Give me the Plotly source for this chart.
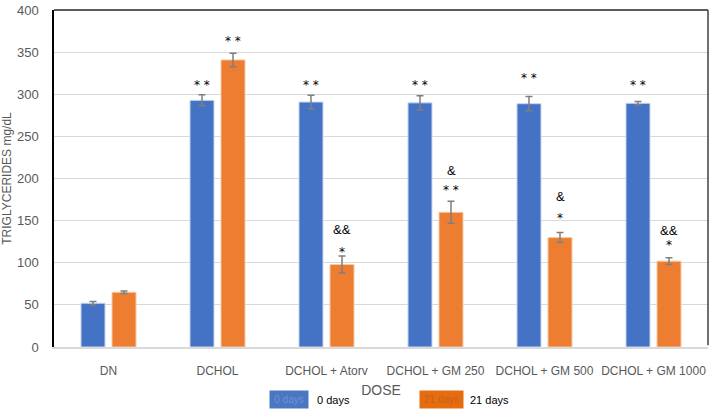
import plotly.graph_objects as go

categories = ["DN", "DCHOL", "DCHOL + Atorv", "DCHOL + GM 250", "DCHOL + GM 500", "DCHOL + GM 1000"]
day0 = [52, 293, 291, 290, 289, 289.5]
day0_err = [2, 6.5, 8, 8.5, 8.5, 2]
day21 = [65, 341, 98, 160, 130, 102]
day21_err = [1.5, 8, 10, 13, 6, 4]
y_ticks = [0, 50, 100, 150, 200, 250, 300, 350, 400]

# significance marks: (category, series, text, y)
marks = [
    ("DCHOL", 0, "**", 311),
    ("DCHOL", 1, "**", 364),
    ("DCHOL + Atorv", 0, "**", 311),
    ("DCHOL + Atorv", 1, "&&", 140),
    ("DCHOL + Atorv", 1, "*", 113),
    ("DCHOL + GM 250", 0, "**", 311),
    ("DCHOL + GM 250", 1, "&", 210),
    ("DCHOL + GM 250", 1, "**", 187),
    ("DCHOL + GM 500", 0, "**", 319),
    ("DCHOL + GM 500", 1, "&", 179),
    ("DCHOL + GM 500", 1, "*", 153),
    ("DCHOL + GM 1000", 0, "**", 311),
    ("DCHOL + GM 1000", 1, "&&", 138),
    ("DCHOL + GM 1000", 1, "*", 121),
]

BLUE = "#4472C4"
ORANGE = "#ED7D31"
err_style = dict(type="data", thickness=1.5, width=3.5, color="#7f7f7f")

fig = go.Figure()
fig.add_trace(go.Bar(
    x=categories, y=day0, name="0 days", marker=dict(color=BLUE, line=dict(color="#c9d6ee", width=1)),
    error_y=dict(array=day0_err, **err_style),
))
fig.add_trace(go.Bar(
    x=categories, y=day21, name="21 days", marker=dict(color=ORANGE, line=dict(color="#f6c9a8", width=1)),
    error_y=dict(array=day21_err, **err_style),
))

for cat, s, txt, yv in marks:
    star = "*" in txt
    fig.add_annotation(
        x=cat, y=yv, text=txt.replace("**", "* *") if star else txt, showarrow=False, xref="x", yref="y",
        xshift=-15.5 if s == 0 else 15.5,
        font=dict(family="DejaVu Sans" if star else "Liberation Sans", size=12 if star else 13, color="#000000"),
    )

# Frame lines (top and right)
fig.add_shape(type="line", xref="paper", yref="paper", x0=0, x1=1, y0=1, y1=1,
              line=dict(color="#262626", width=1.5))
fig.add_shape(type="line", xref="paper", yref="paper", x0=1, x1=1, y0=0.005, y1=1,
              line=dict(color="#404040", width=1.5))

# Legend (custom)
LY = -(400 - 347) / 339
fig.add_annotation(xref="paper", yref="paper", x=(288.5 - 54) / 654, y=LY, xanchor="center", yanchor="middle",
                   text="0 days", showarrow=False, bgcolor="#4a76c2", width=36, height=15, borderpad=1,
                   font=dict(family="Liberation Sans", size=10, color="#6f92d2"))
fig.add_annotation(xref="paper", yref="paper", x=(333 - 54) / 654, y=LY, xanchor="center", yanchor="middle",
                   text="0 days", showarrow=False,
                   font=dict(family="Liberation Sans", size=11, color="#000000"))
fig.add_annotation(xref="paper", yref="paper", x=(441 - 54) / 654, y=LY, xanchor="center", yanchor="middle",
                   text="21 days", showarrow=False, bgcolor="#e56d10", width=41, height=15, borderpad=1,
                   font=dict(family="Liberation Sans", size=10, color="#c95f1c"))
fig.add_annotation(xref="paper", yref="paper", x=(489 - 54) / 654, y=LY, xanchor="center", yanchor="middle",
                   text="21 days", showarrow=False,
                   font=dict(family="Liberation Sans", size=11, color="#000000"))

fig.update_layout(
    width=711, height=410,
    margin=dict(l=54, r=3, t=8, b=63),
    paper_bgcolor="white", plot_bgcolor="white",
    barmode="group", bargap=0.431, bargroupgap=0.226,
    showlegend=False,
    font=dict(family="Liberation Sans", color="#595959"),
    xaxis=dict(
        showline=True, linecolor="#d9d9d9", linewidth=1.5,
        tickfont=dict(size=12, color="#595959"), ticks="outside", ticklen=12, tickcolor="rgba(0,0,0,0)",
        title=dict(text="DOSE", font=dict(size=14, color="#595959"), standoff=8),
    ),
    yaxis=dict(
        range=[0, 400.3], tickmode="array", tickvals=y_ticks, ticktext=[str(v) for v in y_ticks],
        showgrid=True, gridcolor="#d9d9d9", gridwidth=1,
        showline=True, linecolor="#000000", linewidth=1.5, zeroline=False,
        tickfont=dict(size=13, color="#595959"), ticks="outside", ticklen=11, tickcolor="rgba(0,0,0,0)",
        title=dict(text="TRIGLYCERIDES mg/dL", font=dict(size=12, color="#595959"), standoff=3),
    ),
)

fig.write_html("out.html", config={"displayModeBar": False},
               post_script="document.body.style.margin='0';")
